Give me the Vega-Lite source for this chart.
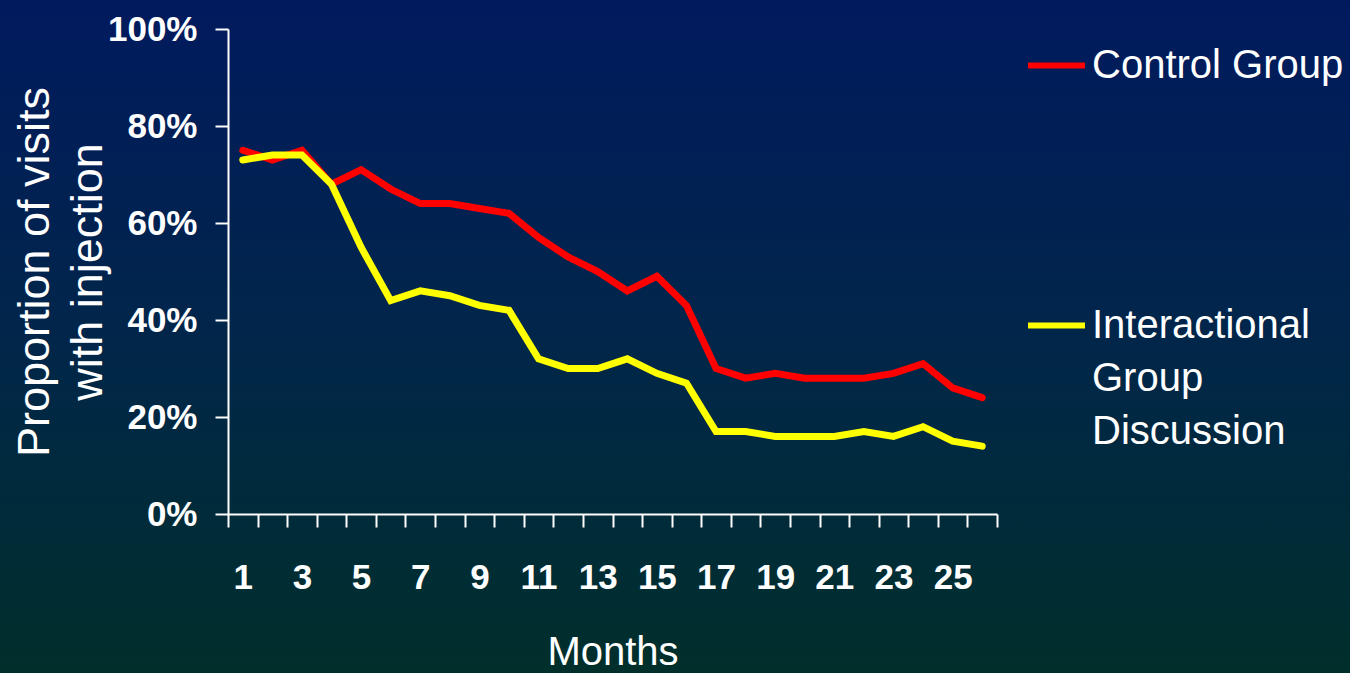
{
  "$schema": "https://vega.github.io/schema/vega-lite/v6.json",
  "width": 1350,
  "height": 673,
  "autosize": "none",
  "padding": 0,
  "background": "#012449",
  "config": {
    "view": {
      "stroke": null,
      "fill": {
        "gradient": "linear",
        "x1": 0, "y1": 0, "x2": 0, "y2": 1,
        "stops": [
          {"offset": 0, "color": "#011a5e"},
          {"offset": 0.5, "color": "#01264a"},
          {"offset": 1, "color": "#002f2b"}
        ]
      }
    },
    "style": {"guide-label": {"lineHeight": 53}},
    "axis": {
      "domainColor": "#ffffff",
      "tickColor": "#ffffff",
      "domainWidth": 2,
      "tickWidth": 2,
      "grid": false,
      "labelColor": "#ffffff",
      "titleColor": "#ffffff",
      "labelFont": "Liberation Sans, Arial, sans-serif",
      "labelFontWeight": "bold",
      "titleFont": "Liberation Sans, Arial, sans-serif",
      "titleFontWeight": "normal"
    },
    "legend": {
      "padding": 0,
      "labelFont": "Liberation Sans, Arial, sans-serif",
      "labelFontSize": 40,
      "labelColor": "#ffffff",
      "labelLimit": 600
    }
  },
  "data": {
    "values": [
      {"month": 1, "group": "Control Group", "value": 0.75},
      {"month": 2, "group": "Control Group", "value": 0.73},
      {"month": 3, "group": "Control Group", "value": 0.75},
      {"month": 4, "group": "Control Group", "value": 0.68},
      {"month": 5, "group": "Control Group", "value": 0.71},
      {"month": 6, "group": "Control Group", "value": 0.67},
      {"month": 7, "group": "Control Group", "value": 0.64},
      {"month": 8, "group": "Control Group", "value": 0.64},
      {"month": 9, "group": "Control Group", "value": 0.63},
      {"month": 10, "group": "Control Group", "value": 0.62},
      {"month": 11, "group": "Control Group", "value": 0.57},
      {"month": 12, "group": "Control Group", "value": 0.53},
      {"month": 13, "group": "Control Group", "value": 0.50},
      {"month": 14, "group": "Control Group", "value": 0.46},
      {"month": 15, "group": "Control Group", "value": 0.49},
      {"month": 16, "group": "Control Group", "value": 0.43},
      {"month": 17, "group": "Control Group", "value": 0.30},
      {"month": 18, "group": "Control Group", "value": 0.28},
      {"month": 19, "group": "Control Group", "value": 0.29},
      {"month": 20, "group": "Control Group", "value": 0.28},
      {"month": 21, "group": "Control Group", "value": 0.28},
      {"month": 22, "group": "Control Group", "value": 0.28},
      {"month": 23, "group": "Control Group", "value": 0.29},
      {"month": 24, "group": "Control Group", "value": 0.31},
      {"month": 25, "group": "Control Group", "value": 0.26},
      {"month": 26, "group": "Control Group", "value": 0.24},
      {"month": 1, "group": "Interactional Group Discussion", "value": 0.73},
      {"month": 2, "group": "Interactional Group Discussion", "value": 0.74},
      {"month": 3, "group": "Interactional Group Discussion", "value": 0.74},
      {"month": 4, "group": "Interactional Group Discussion", "value": 0.68},
      {"month": 5, "group": "Interactional Group Discussion", "value": 0.55},
      {"month": 6, "group": "Interactional Group Discussion", "value": 0.44},
      {"month": 7, "group": "Interactional Group Discussion", "value": 0.46},
      {"month": 8, "group": "Interactional Group Discussion", "value": 0.45},
      {"month": 9, "group": "Interactional Group Discussion", "value": 0.43},
      {"month": 10, "group": "Interactional Group Discussion", "value": 0.42},
      {"month": 11, "group": "Interactional Group Discussion", "value": 0.32},
      {"month": 12, "group": "Interactional Group Discussion", "value": 0.30},
      {"month": 13, "group": "Interactional Group Discussion", "value": 0.30},
      {"month": 14, "group": "Interactional Group Discussion", "value": 0.32},
      {"month": 15, "group": "Interactional Group Discussion", "value": 0.29},
      {"month": 16, "group": "Interactional Group Discussion", "value": 0.27},
      {"month": 17, "group": "Interactional Group Discussion", "value": 0.17},
      {"month": 18, "group": "Interactional Group Discussion", "value": 0.17},
      {"month": 19, "group": "Interactional Group Discussion", "value": 0.16},
      {"month": 20, "group": "Interactional Group Discussion", "value": 0.16},
      {"month": 21, "group": "Interactional Group Discussion", "value": 0.16},
      {"month": 22, "group": "Interactional Group Discussion", "value": 0.17},
      {"month": 23, "group": "Interactional Group Discussion", "value": 0.16},
      {"month": 24, "group": "Interactional Group Discussion", "value": 0.18},
      {"month": 25, "group": "Interactional Group Discussion", "value": 0.15},
      {"month": 26, "group": "Interactional Group Discussion", "value": 0.14}
    ]
  },
  "mark": {"type": "line", "strokeWidth": 7, "strokeCap": "round"},
  "encoding": {
    "x": {
      "field": "month",
      "type": "ordinal",
      "bandPosition": 0.5,
      "scale": {"type": "band", "range": [228, 997], "paddingInner": 0, "paddingOuter": 0},
      "axis": {
        "title": "Months",
        "titleFontSize": 40,
        "offset": -159,
        "tickBand": "extent",
        "tickSize": 13,
        "labelAngle": 0,
        "labelFontSize": 35,
        "labelPadding": 33,
        "labelOverlap": false,
        "labelExpr": "datum.value % 2 == 1 ? datum.label : ''",
        "titlePadding": 37
      }
    },
    "y": {
      "field": "value",
      "type": "quantitative",
      "scale": {"domain": [0, 1], "range": [514, 29], "nice": false},
      "axis": {
        "title": ["Proportion of visits", "with injection"],
        "titleFontSize": 45,
        "titleLineHeight": 53,
        "titlePadding": -3,
        "offset": -228,
        "format": ".0%",
        "values": [0, 0.2, 0.4, 0.6, 0.8, 1],
        "tickSize": 13,
        "labelFontSize": 35,
        "labelPadding": 18
      }
    },
    "color": {
      "field": "group",
      "type": "nominal",
      "scale": {
        "domain": ["Control Group", "Interactional Group Discussion"],
        "range": ["#ff0000", "#ffff00"]
      },
      "legend": {
        "title": null,
        "orient": "none",
        "legendX": 1025,
        "legendY": 34,
        "symbolType": "stroke",
        "symbolSize": 3249,
        "symbolStrokeWidth": 6,
        "labelOffset": 4,
        "rowPadding": 208,
        "labelExpr": "datum.label == 'Interactional Group Discussion' ? ['Interactional', 'Group', 'Discussion'] : datum.label"
      }
    }
  }
}
